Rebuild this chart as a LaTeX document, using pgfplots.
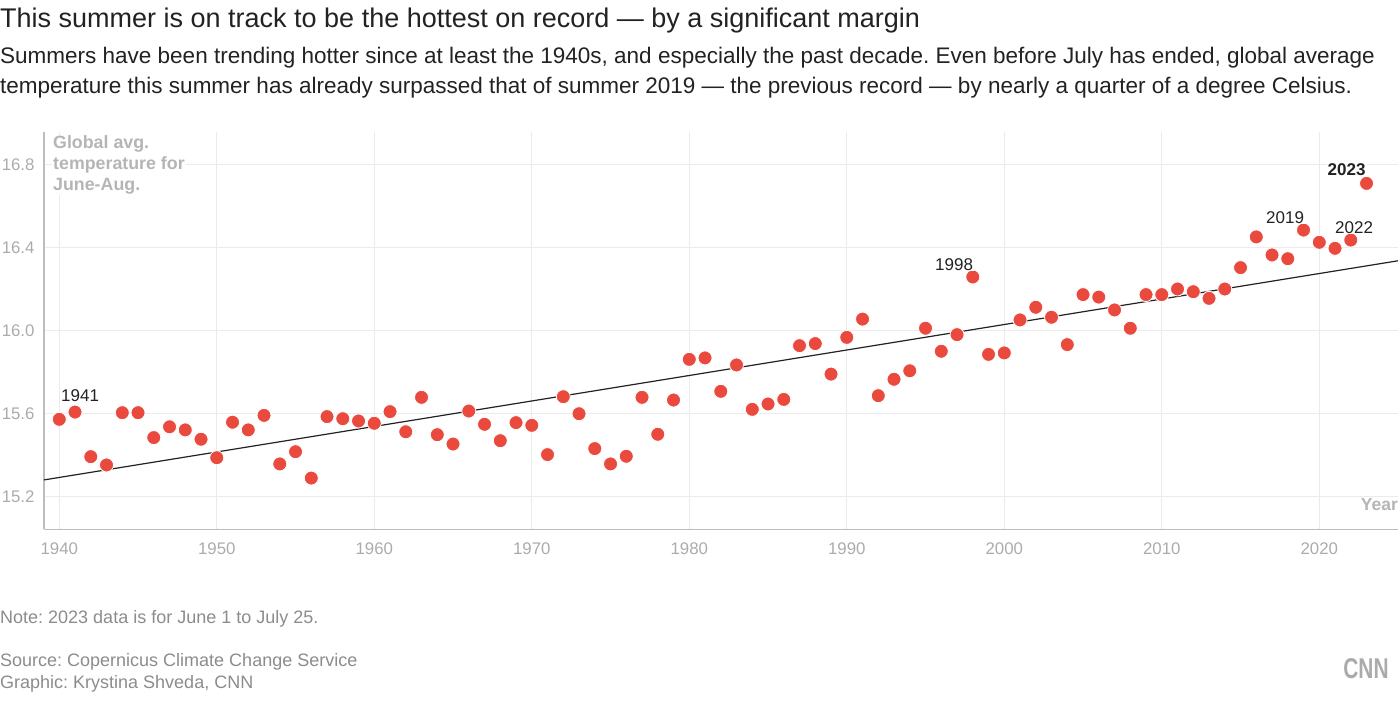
\documentclass[border=0pt]{standalone}
\usepackage{pgfplots}
\pgfplotsset{compat=1.18}
\usepackage{fontspec}
\setmainfont{Liberation Sans}
\frenchspacing
\definecolor{dotred}{HTML}{EA4A3E}
\definecolor{gridc}{HTML}{EBEBEB}
\definecolor{axisc}{HTML}{BDBDBD}
\definecolor{tickc}{HTML}{ABABAB}
\definecolor{lblc}{HTML}{B5B5B5}
\definecolor{txt}{HTML}{222222}
\definecolor{notec}{HTML}{8C8C8C}
\newcommand{\fs}[1]{\fontsize{#1}{#1}\selectfont}
\begin{document}
\begin{tikzpicture}
\path[use as bounding box] (0pt,0pt) rectangle (1398pt,-702pt);
\begin{axis}[
  at={(44pt,-529.3pt)}, anchor=south west,
  scale only axis, width=1354pt, height=397.6pt,
  xmin=1939.03, xmax=2025, ymin=15.041, ymax=16.957,
  axis x line*=bottom, axis y line*=left,
  axis line style={color=axisc, line width=1.5pt},
  xtick={1940,1950,1960,1970,1980,1990,2000,2010,2020},
  ytick={15.2,15.6,16.0,16.4,16.8},
  yticklabels={15.2,15.6,16.0,16.4,16.8},
  /pgf/number format/assume math mode=true,
  xticklabel style={/pgf/number format/1000 sep={}, font=\fs{16.8}, text=tickc, yshift=-10pt},
  yticklabel style={font=\fs{16.8}, text=tickc, xshift=-6pt},
  major tick length=0pt,
  xmajorgrids, ymajorgrids,
  grid style={color=gridc, line width=1.3pt},
  clip=false,
]
\addplot[only marks, mark=*, mark size=7pt, mark options={fill=dotred, draw=white, line width=0.8pt}] coordinates {
(1940,15.571)(1941,15.606)(1942,15.391)(1943,15.351)(1944,15.603)(1945,15.603)
(1946,15.483)(1947,15.535)(1948,15.520)(1949,15.475)(1950,15.386)(1951,15.557)
(1952,15.520)(1953,15.590)(1954,15.356)(1955,15.415)(1956,15.288)(1957,15.584)
(1958,15.574)(1959,15.563)(1960,15.552)(1961,15.608)(1962,15.511)(1963,15.677)
(1964,15.497)(1965,15.452)(1966,15.611)(1967,15.547)(1968,15.468)(1969,15.555)
(1970,15.542)(1971,15.401)(1972,15.680)(1973,15.598)(1974,15.430)(1975,15.356)
(1976,15.393)(1977,15.677)(1978,15.499)(1979,15.664)(1980,15.860)(1981,15.867)
(1982,15.706)(1983,15.833)(1984,15.619)(1985,15.645)(1986,15.667)(1987,15.926)
(1988,15.936)(1989,15.789)(1990,15.966)(1991,16.054)(1992,15.685)(1993,15.764)
(1994,15.805)(1995,16.010)(1996,15.899)(1997,15.979)(1998,16.257)(1999,15.884)
(2000,15.891)(2001,16.050)(2002,16.111)(2003,16.063)(2004,15.931)(2005,16.172)
(2006,16.160)(2007,16.098)(2008,16.010)(2009,16.172)(2010,16.172)(2011,16.199)
(2012,16.186)(2013,16.154)(2014,16.199)(2015,16.302)(2016,16.450)(2017,16.363)
(2018,16.345)(2019,16.483)(2020,16.424)(2021,16.395)(2022,16.435)(2023,16.708)
};
\addplot[color=txt, line width=1.2pt] coordinates {(1939.03,15.279)(2025,16.335)};
\end{axis}
% axis title
\node[anchor=base west, align=left, fill=white, inner sep=1pt, text=lblc, font=\fs{17.8}\bfseries] at (52pt,-190pt)
  {Global avg.\\[3pt]temperature for\\[3pt]June-Aug.};
\node[anchor=base east, inner sep=0pt, text=lblc, font=\fs{17.5}\bfseries] at (1398pt,-510pt) {Year};
% annotations
\node[anchor=base west, inner sep=1pt, fill=white, text=txt, font=\fs{17}] at (60pt,-401.7pt) {1941};
\node[anchor=base west, inner sep=1pt, fill=white, text=txt, font=\fs{17}] at (934pt,-270pt) {1998};
\node[anchor=base west, inner sep=1pt, fill=white, text=txt, font=\fs{17}] at (1265pt,-223.3pt) {2019};
\node[anchor=base west, inner sep=1pt, fill=white, text=txt, font=\fs{17}] at (1334pt,-233pt) {2022};
\node[anchor=base west, inner sep=1pt, fill=white, text=txt, font=\fs{17}\bfseries] at (1326.5pt,-175.7pt) {2023};
% titles
\node[anchor=base west, inner sep=0pt, text=txt, font=\fs{27}] at (0pt,-27pt)
  {This summer is on track to be the hottest on record — by a significant margin};
\node[anchor=base west, inner sep=0pt, text=txt, font=\fs{22.5}] at (0pt,-63pt)
  {Summers have been trending hotter since at least the 1940s, and especially the past decade. Even before July has ended, global average};
\node[anchor=base west, inner sep=0pt, text=txt, font=\fs{22.5}] at (0pt,-93pt)
  {temperature this summer has already surpassed that of summer 2019 — the previous record — by nearly a quarter of a degree Celsius.};
% footer
\node[anchor=base west, inner sep=0pt, text=notec, font=\fs{18}] at (0pt,-623pt) {Note: 2023 data is for June 1 to July 25.};
\node[anchor=base west, inner sep=0pt, text=notec, font=\fs{18}] at (0pt,-666pt) {Source: Copernicus Climate Change Service};
\node[anchor=base west, inner sep=0pt, text=notec, font=\fs{18}] at (0pt,-688pt) {Graphic: Krystina Shveda, CNN};
\node[anchor=center, inner sep=0pt, text=tickc, font=\fs{22}\bfseries] at (1366pt,-669pt) {\scalebox{0.95}[1.3]{CNN}};
\end{tikzpicture}
\end{document}
